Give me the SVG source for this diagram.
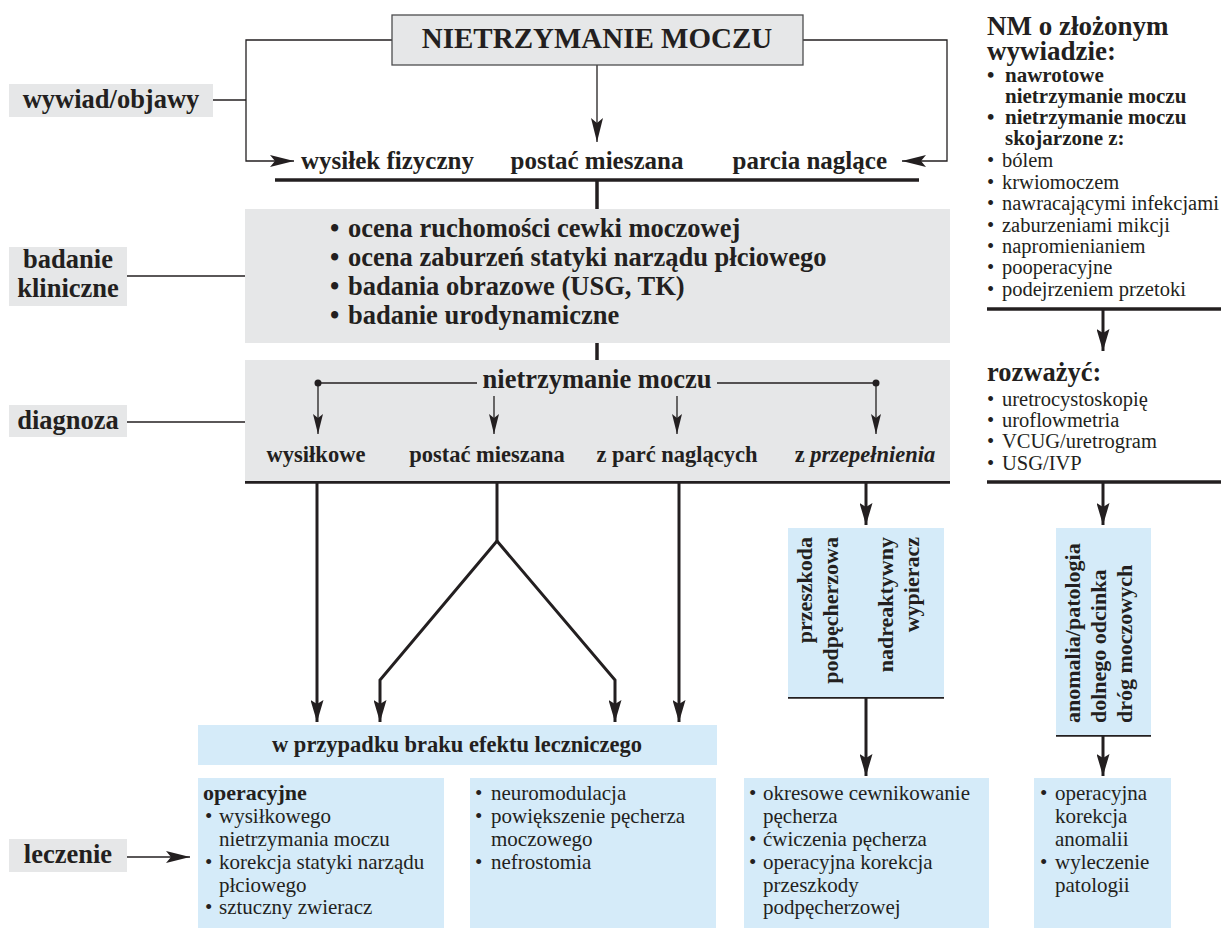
<svg xmlns="http://www.w3.org/2000/svg" width="1221" height="929" viewBox="0 0 1221 929">
<style>
text{font-family:"Liberation Serif","Times New Roman",serif;fill:#231f20}
.b{font-weight:bold}
.grey{fill:#e6e7e8}
.blue{fill:#d5ebf9}
.thin{stroke:#231f20;stroke-width:1.3;fill:none}
.thick{stroke:#231f20;stroke-width:3.5;fill:none}
.arr{stroke:#231f20;stroke-width:3;fill:none}
.s29{font-size:29px}.s27{font-size:27px}.s265{font-size:26.5px}.s25{font-size:25px}.s225{font-size:22.5px}.s22{font-size:22px}.s21{font-size:21px}.s205{font-size:20.5px}
.m{text-anchor:middle}
</style>
<defs>
<marker id="ah" viewBox="0 0 24 12" refX="24" refY="6" markerWidth="24" markerHeight="12" markerUnits="userSpaceOnUse" orient="auto"><path d="M0,0 L24,6 L0,12 L5,6 Z" fill="#231f20"/></marker>
<marker id="ahs" viewBox="0 0 20 10" refX="20" refY="5" markerWidth="20" markerHeight="10" markerUnits="userSpaceOnUse" orient="auto"><path d="M0,0 L20,5 L0,10 L4,5 Z" fill="#231f20"/></marker>
<marker id="ahb" viewBox="0 0 22 13" refX="22" refY="6.5" markerWidth="22" markerHeight="13" markerUnits="userSpaceOnUse" orient="auto"><path d="M0,0 L22,6.5 L0,13 L4,6.5 Z" fill="#231f20"/></marker>
</defs>

<g id="connectors">
<polyline class="thin" points="392,40 246,40 246,161 294,161" marker-end="url(#ah)"/>
<line class="thin" x1="213" y1="100" x2="246" y2="100"/>
<line class="thin" x1="597" y1="65" x2="597" y2="142" marker-end="url(#ah)"/>
<polyline class="thin" points="803,40 947,40 947,161 902,161" marker-end="url(#ah)"/>
<line class="thick" x1="275" y1="180" x2="919" y2="180"/>
<line class="thick" x1="597" y1="180" x2="597" y2="209"/>
<line class="thin" x1="127" y1="276" x2="245" y2="276"/>
<line class="thick" x1="597" y1="343" x2="597" y2="360"/>
<line class="thin" x1="127" y1="422" x2="245" y2="422"/>
<line class="thin" x1="127" y1="857" x2="190" y2="857" marker-end="url(#ah)"/>
<line class="thick" x1="245" y1="482" x2="950" y2="482"/>
<line class="arr" x1="317" y1="482" x2="317" y2="722" marker-end="url(#ahb)"/>
<line class="arr" x1="679" y1="482" x2="679" y2="722" marker-end="url(#ahb)"/>
<line class="arr" x1="497" y1="482" x2="497" y2="541"/>
<polyline class="arr" points="497,541 380,680 380,722" marker-end="url(#ahb)"/>
<polyline class="arr" points="497,541 615,680 615,722" marker-end="url(#ahb)"/>
<line class="arr" x1="866" y1="482" x2="866" y2="525" marker-end="url(#ahb)"/>
<line class="thick" x1="987" y1="309" x2="1221" y2="309"/>
<line class="arr" x1="1103" y1="309" x2="1103" y2="351" marker-end="url(#ahb)"/>
<line class="thick" x1="987" y1="482" x2="1221" y2="482"/>
<line class="arr" x1="1103" y1="482" x2="1103" y2="525" marker-end="url(#ahb)"/>
<line class="thick" x1="788" y1="697" x2="944" y2="697"/>
<line class="arr" x1="866" y1="697" x2="866" y2="776" marker-end="url(#ahb)"/>
<line class="thick" x1="1056" y1="735" x2="1151" y2="735"/>
<line class="arr" x1="1103" y1="735" x2="1103" y2="776" marker-end="url(#ahb)"/>
</g>

<g id="title">
<rect x="392" y="15" width="411" height="50" class="grey" stroke="#4d4d4f" stroke-width="1.3"/>
<text x="597" y="48" class="b s29 m">NIETRZYMANIE MOCZU</text>
</g>

<g id="label-wywiad">
<rect x="9" y="84" width="204" height="33" class="grey"/>
<text x="111" y="108" class="b s265 m">wywiad/objawy</text>
</g>

<g id="symptoms">
<text x="301" y="169" class="b s25">wysiłek fizyczny</text>
<text x="597" y="169" class="b s25 m">postać mieszana</text>
<text x="887" y="169" class="b s25" text-anchor="end">parcia naglące</text>
</g>

<g id="label-badanie">
<rect x="9" y="247" width="118" height="59" class="grey"/>
<text x="68" y="268" class="b s265 m">badanie</text>
<text x="68" y="297" class="b s265 m">kliniczne</text>
</g>

<g id="badanie">
<rect x="245" y="209" width="705" height="134" class="grey"/>
<text class="b s265"><tspan x="330" y="237">•</tspan><tspan x="348" y="237">ocena ruchomości cewki moczowej</tspan></text>
<text class="b s265"><tspan x="330" y="266">•</tspan><tspan x="348" y="266">ocena zaburzeń statyki narządu płciowego</tspan></text>
<text class="b s265"><tspan x="330" y="295">•</tspan><tspan x="348" y="295">badania obrazowe (USG, TK)</tspan></text>
<text class="b s265"><tspan x="330" y="324">•</tspan><tspan x="348" y="324">badanie urodynamiczne</tspan></text>
</g>

<g id="label-diagnoza">
<rect x="9" y="405" width="118" height="32" class="grey"/>
<text x="68" y="429" class="b s265 m">diagnoza</text>
</g>

<g id="diagnoza">
<rect x="245" y="360" width="705" height="121" class="grey"/>
<text x="597" y="388" class="b s265 m">nietrzymanie moczu</text>
<line class="thin" x1="318" y1="383" x2="477" y2="383"/>
<line class="thin" x1="717" y1="383" x2="876" y2="383"/>
<circle cx="318" cy="383" r="3.5" fill="#231f20"/>
<circle cx="876" cy="383" r="3.5" fill="#231f20"/>
<line class="thin" x1="318" y1="383" x2="318" y2="434" marker-end="url(#ahs)"/>
<line class="thin" x1="494" y1="396" x2="494" y2="434" marker-end="url(#ahs)"/>
<line class="thin" x1="677" y1="396" x2="677" y2="434" marker-end="url(#ahs)"/>
<line class="thin" x1="876" y1="383" x2="876" y2="434" marker-end="url(#ahs)"/>
<text x="316" y="462" class="b s225 m">wysiłkowe</text>
<text x="487" y="462" class="b s225 m">postać mieszana</text>
<text x="677" y="462" class="b s225 m">z parć naglących</text>
<text x="865" y="462" class="b s225 m">z <tspan font-style="italic">przepełnienia</tspan></text>
</g>

<g id="complex-history">
<text x="987" y="35" class="b s27">NM o złożonym</text>
<text x="987" y="60" class="b s27">wywiadzie:</text>
<text class="b s21"><tspan x="987" y="82">•</tspan><tspan x="1005" y="82">nawrotowe</tspan></text>
<text x="1005" y="103" class="b s21">nietrzymanie moczu</text>
<text class="b s21"><tspan x="987" y="124">•</tspan><tspan x="1005" y="124">nietrzymanie moczu</tspan></text>
<text x="1005" y="145" class="b s21">skojarzone z:</text>
<text class="s205"><tspan x="987" y="167">•</tspan><tspan x="1002" y="167">bólem</tspan></text>
<text class="s205"><tspan x="987" y="189">•</tspan><tspan x="1002" y="189">krwiomoczem</tspan></text>
<text class="s205"><tspan x="987" y="210">•</tspan><tspan x="1002" y="210">nawracającymi infekcjami</tspan></text>
<text class="s205"><tspan x="987" y="232">•</tspan><tspan x="1002" y="232">zaburzeniami mikcji</tspan></text>
<text class="s205"><tspan x="987" y="253">•</tspan><tspan x="1002" y="253">napromienianiem</tspan></text>
<text class="s205"><tspan x="987" y="274">•</tspan><tspan x="1002" y="274">pooperacyjne</tspan></text>
<text class="s205"><tspan x="987" y="296">•</tspan><tspan x="1002" y="296">podejrzeniem przetoki</tspan></text>
</g>

<g id="consider">
<text x="987" y="381" class="b s265">rozważyć:</text>
<text class="s205"><tspan x="987" y="406">•</tspan><tspan x="1002" y="406">uretrocystoskopię</tspan></text>
<text class="s205"><tspan x="987" y="427">•</tspan><tspan x="1002" y="427">uroflowmetria</tspan></text>
<text class="s205"><tspan x="987" y="448">•</tspan><tspan x="1002" y="448">VCUG/uretrogram</tspan></text>
<text class="s205"><tspan x="987" y="470">•</tspan><tspan x="1002" y="470">USG/IVP</tspan></text>
</g>

<g id="overflow-causes">
<rect x="788" y="528" width="156" height="169" class="blue"/>
<text class="b s22" text-anchor="end" transform="translate(812,537) rotate(-90)">przeszkoda</text>
<text class="b s22" text-anchor="end" transform="translate(838,537) rotate(-90)">podpęcherzowa</text>
<text class="b s22" text-anchor="end" transform="translate(893,537) rotate(-90)">nadreaktywny</text>
<text class="b s22" text-anchor="end" transform="translate(919,537) rotate(-90)">wypieracz</text>
</g>

<g id="anomaly">
<rect x="1056" y="528" width="95" height="207" class="blue"/>
<text class="b s22" transform="translate(1080,723) rotate(-90)">anomalia/patologia</text>
<text class="b s22" transform="translate(1106,723) rotate(-90)">dolnego odcinka</text>
<text class="b s22" transform="translate(1132,723) rotate(-90)">dróg moczowych</text>
</g>

<g id="no-effect">
<rect x="198" y="725" width="519" height="40" class="blue"/>
<text x="457" y="752" class="b s225 m">w przypadku braku efektu leczniczego</text>
</g>

<g id="label-leczenie">
<rect x="9" y="839" width="118" height="33" class="grey"/>
<text x="68" y="863" class="b s265 m">leczenie</text>
</g>

<g id="treat-surgical">
<rect x="198" y="778" width="246" height="150" class="blue"/>
<text x="203" y="800" class="b s22">operacyjne</text>
<text class="s21"><tspan x="205" y="823">•</tspan><tspan x="219" y="823">wysiłkowego</tspan></text>
<text x="219" y="846" class="s21">nietrzymania moczu</text>
<text class="s21"><tspan x="205" y="869">•</tspan><tspan x="219" y="869">korekcja statyki narządu</tspan></text>
<text x="219" y="892" class="s21">płciowego</text>
<text class="s21"><tspan x="205" y="914">•</tspan><tspan x="219" y="914">sztuczny zwieracz</tspan></text>
</g>

<g id="treat-other">
<rect x="470" y="778" width="246" height="150" class="blue"/>
<text class="s21"><tspan x="475" y="800">•</tspan><tspan x="491" y="800">neuromodulacja</tspan></text>
<text class="s21"><tspan x="475" y="823">•</tspan><tspan x="491" y="823">powiększenie pęcherza</tspan></text>
<text x="491" y="846" class="s21">moczowego</text>
<text class="s21"><tspan x="475" y="869">•</tspan><tspan x="491" y="869">nefrostomia</tspan></text>
</g>

<g id="treat-overflow">
<rect x="744" y="778" width="245" height="150" class="blue"/>
<text class="s21"><tspan x="749" y="800">•</tspan><tspan x="763" y="800">okresowe cewnikowanie</tspan></text>
<text x="763" y="823" class="s21">pęcherza</text>
<text class="s21"><tspan x="749" y="846">•</tspan><tspan x="763" y="846">ćwiczenia pęcherza</tspan></text>
<text class="s21"><tspan x="749" y="869">•</tspan><tspan x="763" y="869">operacyjna korekcja</tspan></text>
<text x="763" y="892" class="s21">przeszkody</text>
<text x="763" y="914" class="s21">podpęcherzowej</text>
</g>

<g id="treat-anomaly">
<rect x="1034" y="778" width="137" height="150" class="blue"/>
<text class="s21"><tspan x="1040" y="800">•</tspan><tspan x="1055" y="800">operacyjna</tspan></text>
<text x="1055" y="823" class="s21">korekcja</text>
<text x="1055" y="846" class="s21">anomalii</text>
<text class="s21"><tspan x="1040" y="869">•</tspan><tspan x="1055" y="869">wyleczenie</tspan></text>
<text x="1055" y="892" class="s21">patologii</text>
</g>
</svg>
